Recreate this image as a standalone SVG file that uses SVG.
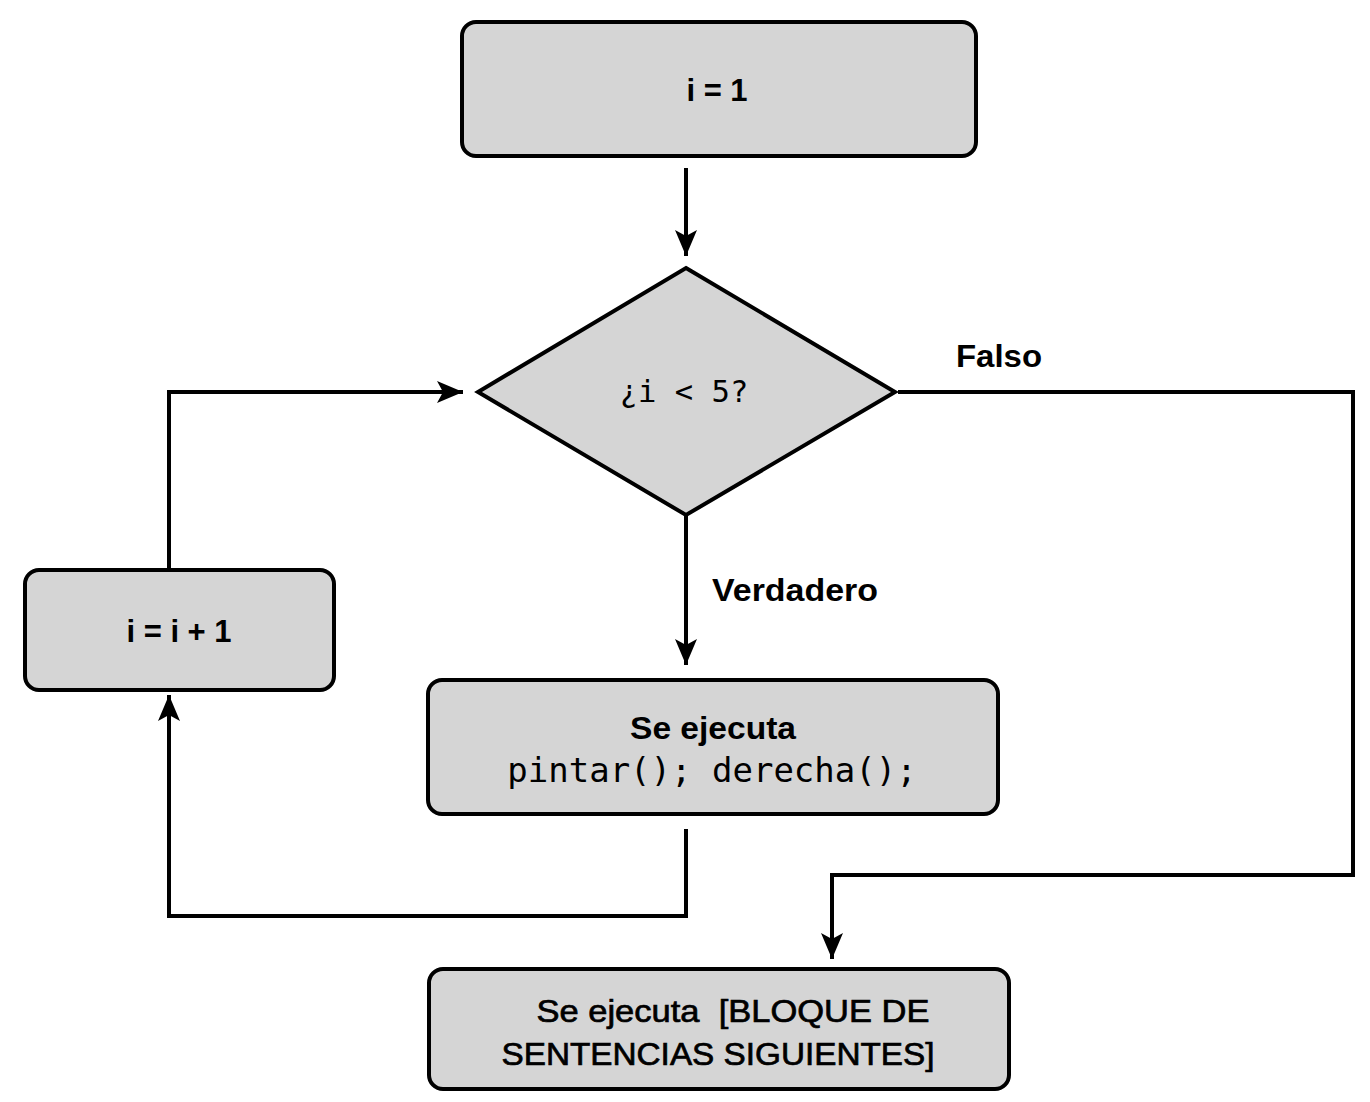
<svg xmlns="http://www.w3.org/2000/svg" width="1370" height="1102" viewBox="0 0 1370 1102">
<style>
.box{fill:#d5d5d5;stroke:#000;stroke-width:4}
.conn{fill:none;stroke:#000;stroke-width:4}
.sans{font-family:"Liberation Sans",Arial,sans-serif;fill:#000;text-anchor:middle}
.b{font-weight:bold}
.med{stroke:#000;stroke-width:0.7}
.mono{font-family:"DejaVu Sans Mono","Liberation Mono",monospace;fill:#000;text-anchor:middle}
</style>
<defs>
<marker id="arr" markerUnits="userSpaceOnUse" markerWidth="28" markerHeight="28" viewBox="0 0 28 28" refX="26" refY="14" orient="auto">
<path d="M0,3 L26,14 L0,25 L6,14 Z" fill="#000"/>
</marker>
</defs>
<rect width="1370" height="1102" fill="#fff"/>
<g id="connectors">
<path class="conn" d="M686,168 V256" marker-end="url(#arr)"/>
<path class="conn" d="M686,515 V665" marker-end="url(#arr)"/>
<path class="conn" d="M898,392 H1353 V875 H832 V959" marker-end="url(#arr)"/>
<path class="conn" d="M686,829 V916 H169 V695" marker-end="url(#arr)"/>
<path class="conn" d="M169,570 V392 H463" marker-end="url(#arr)"/>
<text class="sans b" x="999" y="367" font-size="32" textLength="86" lengthAdjust="spacingAndGlyphs">Falso</text>
<text class="sans b" x="795" y="601" font-size="32" textLength="166" lengthAdjust="spacingAndGlyphs">Verdadero</text>
</g>
<g id="n1">
<rect class="box" x="462" y="22" width="514" height="134" rx="14"/>
<text class="sans b" x="717" y="101" font-size="31">i = 1</text>
</g>
<g id="n2">
<polygon class="box" points="686,268 895,392 686,515 478,392"/>
<text class="mono" x="684" y="402" font-size="30.5">¿i &lt; 5?</text>
</g>
<g id="n3">
<rect class="box" x="428" y="680" width="570" height="134" rx="14"/>
<text class="sans b" x="713" y="739" font-size="32" textLength="166" lengthAdjust="spacingAndGlyphs">Se ejecuta</text>
<text class="mono" x="712" y="782" font-size="34">pintar(); derecha();</text>
</g>
<g id="n4">
<rect class="box" x="25" y="570" width="309" height="120" rx="14"/>
<text class="sans b" x="179" y="642" font-size="31">i = i + 1</text>
</g>
<g id="n5">
<rect class="box" x="429" y="969" width="580" height="120" rx="14"/>
<text class="sans med" x="733" y="1022" font-size="32" textLength="393" lengthAdjust="spacingAndGlyphs" style="white-space:pre">Se ejecuta  [BLOQUE DE</text>
<text class="sans med" x="718" y="1065" font-size="32" textLength="433" lengthAdjust="spacingAndGlyphs">SENTENCIAS SIGUIENTES]</text>
</g>
</svg>
